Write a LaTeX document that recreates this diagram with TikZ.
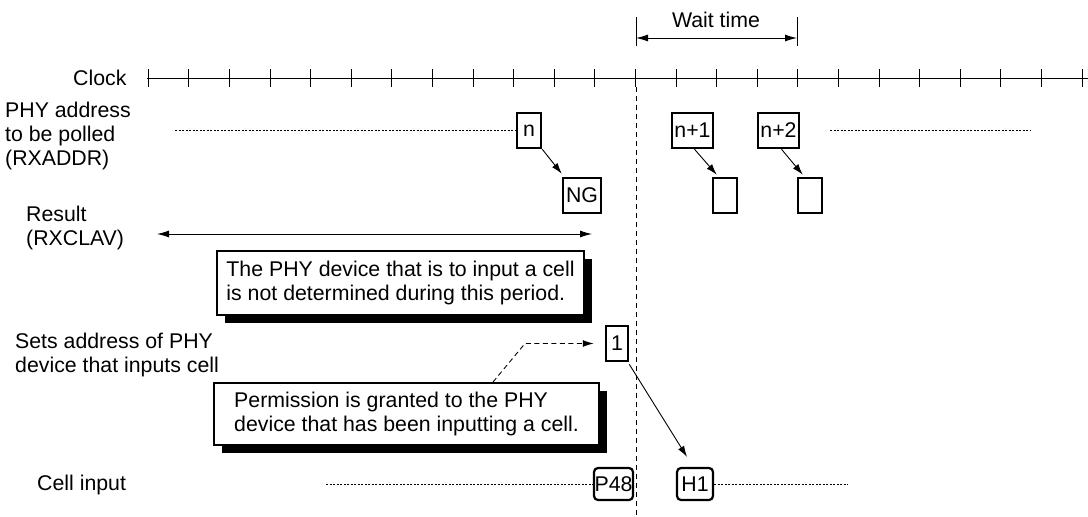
\documentclass[tikz,border=0pt]{standalone}
\usepackage{fontspec}
\setmainfont{Liberation Sans}
\usetikzlibrary{arrows.meta,calc,shadows}
\begin{document}
\begin{tikzpicture}[x=1pt,y=-1pt,
  every node/.style={font=\fontsize{21.3}{24}\selectfont, inner sep=0pt},
  lbl/.style={anchor=west, align=left},
  tbox/.style={draw, line width=2.5pt, minimum height=35pt},
  rbox/.style={draw, line width=2.2pt, rounded corners=4pt, minimum height=32pt},
  note/.style={draw, line width=2pt, fill=white, align=left,
    drop shadow={shadow xshift=8pt, shadow yshift=-8pt, opacity=1, fill=black}},
  arr/.style={-{Latex[length=11pt,width=7pt]}, line width=0.9pt},
  dblarr/.style={{Latex[length=12pt,width=7pt]}-{Latex[length=12pt,width=7pt]}, line width=0.9pt},
  dots/.style={line width=0.8pt, dash pattern=on 2pt off 1.5pt},
  ]
\useasboundingbox (0,0) rectangle (1088,517);

% clock
\node[anchor=west] (clk) at (73,78) {Clock};
\draw[line width=0.9pt] (147,78.5) -- (1088,78.5);
\foreach \k in {0,...,23} \draw[line width=0.9pt] ({148.3+40.6*\k},69) -- ({148.3+40.6*\k},87);

% wait time
\draw[line width=0.9pt] (636,17) -- (636,46);
\draw[line width=0.9pt] (797,17) -- (797,46);
\coordinate (wa) at (636,38);
\coordinate (wb) at (797,38);
\draw[dblarr] (wa) -- (wb);
\node (wt) at (716,20) {Wait time};

% dashed vertical
\draw[line width=0.9pt, dash pattern=on 5pt off 4pt] (636,87) -- (636,517);

% labels
\node[lbl] (l1) at (5,136) {PHY address\\to be polled\\(RXADDR)};
\node[lbl] (l2) at (26,228) {Result\\(RXCLAV)};
\node[lbl] (l3) at (15,355) {Sets address of PHY\\device that inputs cell};
\node[lbl] (l4) at (37,485) {Cell input};

% polled addresses
\node[tbox, minimum width=24pt] (n) at (529,130.5) {n};
\node[tbox, minimum width=38pt] (ng) at (582,195.5) {NG};
\node[tbox, minimum width=41pt] (n1) at (692.5,130.5) {n+1};
\node[tbox, minimum width=41pt] (n2) at (778.5,130.5) {n+2};
\node[tbox, minimum width=24pt] (e1) at (725,195.5) {};
\node[tbox, minimum width=24pt] (e2) at (810,195.5) {};
\coordinate (d1) at (175,130.5);
\coordinate (d2) at (830,130.5);
\coordinate (d3) at (1030,130.5);
\draw[dots] (d1) -- (n.west);
\draw[dots] (d2) -- (d3);
\draw[arr] (n.south east) -- ($(ng.north west)+(0,-3)$);
\draw[arr] ($(n1.south)+(2,0)$) -- ($(e1.north west)+(5,-2)$);
\draw[arr] ($(n2.south)+(3,0)$) -- ($(e2.north west)+(6,-2)$);

% result
\coordinate (r1) at (157,234);
\coordinate (r2) at (592,234);
\draw[dblarr] (r1) -- (r2);
\node[note, minimum width=367pt, minimum height=64pt, anchor=north west] (nb1) at (216,250)
  {The PHY device that is to input a cell\\is not determined during this period.};

% sets address
\node[tbox, minimum width=22pt] (one) at (617,343.5) {1};
\node[note, minimum width=385pt, minimum height=62pt, anchor=north west] (nb2) at (213,382)
  {Permission is granted to the PHY\\device that has been inputting a cell.};
\coordinate (bend) at (525,343.5);
\draw[dash pattern=on 5pt off 3.5pt, line width=0.9pt, -{Latex[length=11pt,width=7pt]}]
  ($(nb2.north west)+(280,0)$) -- (bend) -- ($(one.west)+(-11,0)$);

% cell input
\node[rbox, minimum width=39pt] (p48) at (613.5,484) {P48};
\node[rbox, minimum width=36pt] (h1) at (695,484) {H1};
\coordinate (c1) at (326,484);
\coordinate (c2) at (848,484);
\draw[dots] (c1) -- (p48.west);
\draw[dots] (h1.east) -- (c2);
\draw[arr] ($(one.south east)+(0,2)$) -- ($(h1.north)+(-8,-10)$);
\end{tikzpicture}
\end{document}
